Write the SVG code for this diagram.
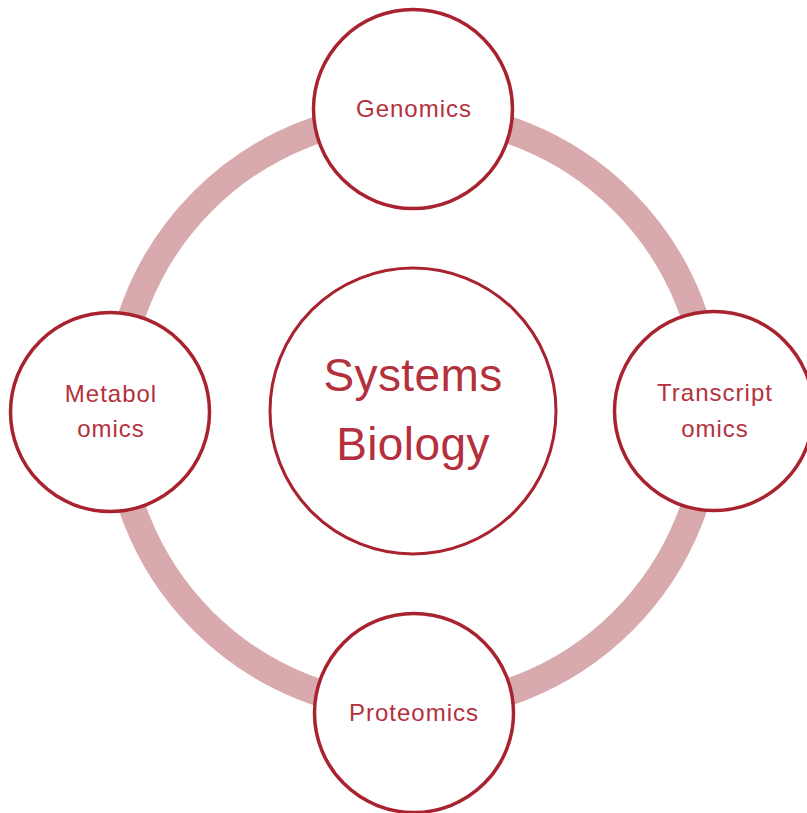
<svg xmlns="http://www.w3.org/2000/svg" width="807" height="813" viewBox="0 0 807 813">
  <style>
    .node circle { fill: #ffffff; stroke: #A8232F; stroke-width: 3.5; }
    .label { font-family: "Liberation Sans", Arial, sans-serif; fill: #B5303D; text-anchor: middle; }
    .small { font-size: 24px; letter-spacing: 1px; }
    .big { font-size: 46px; letter-spacing: 0.4px; }
    .ring { fill: none; stroke: #D8AAAD; stroke-width: 27; }
  </style>
  <rect width="807" height="813" fill="#ffffff"/>

  <!-- connector: the ring linking the outer nodes -->
  <g id="connectors">
    <circle class="ring" cx="413" cy="411" r="297"/>
  </g>

  <g id="node-center" class="node">
    <circle cx="413" cy="411" r="143" style="stroke-width:3"/>
    <text class="label big" x="413" y="391">Systems</text>
    <text class="label big" x="413" y="460">Biology</text>
  </g>

  <g id="node-genomics" class="node">
    <circle cx="413" cy="109" r="99.5"/>
    <text class="label small" x="414" y="117">Genomics</text>
  </g>

  <g id="node-transcriptomics" class="node">
    <circle cx="714" cy="411" r="99.5"/>
    <text class="label small" x="715" y="401">Transcript</text>
    <text class="label small" x="715" y="437">omics</text>
  </g>

  <g id="node-proteomics" class="node">
    <circle cx="414" cy="713" r="99.5"/>
    <text class="label small" x="414" y="721">Proteomics</text>
  </g>

  <g id="node-metabolomics" class="node">
    <circle cx="110" cy="412" r="99.5"/>
    <text class="label small" x="111" y="402">Metabol</text>
    <text class="label small" x="111" y="437">omics</text>
  </g>
</svg>
